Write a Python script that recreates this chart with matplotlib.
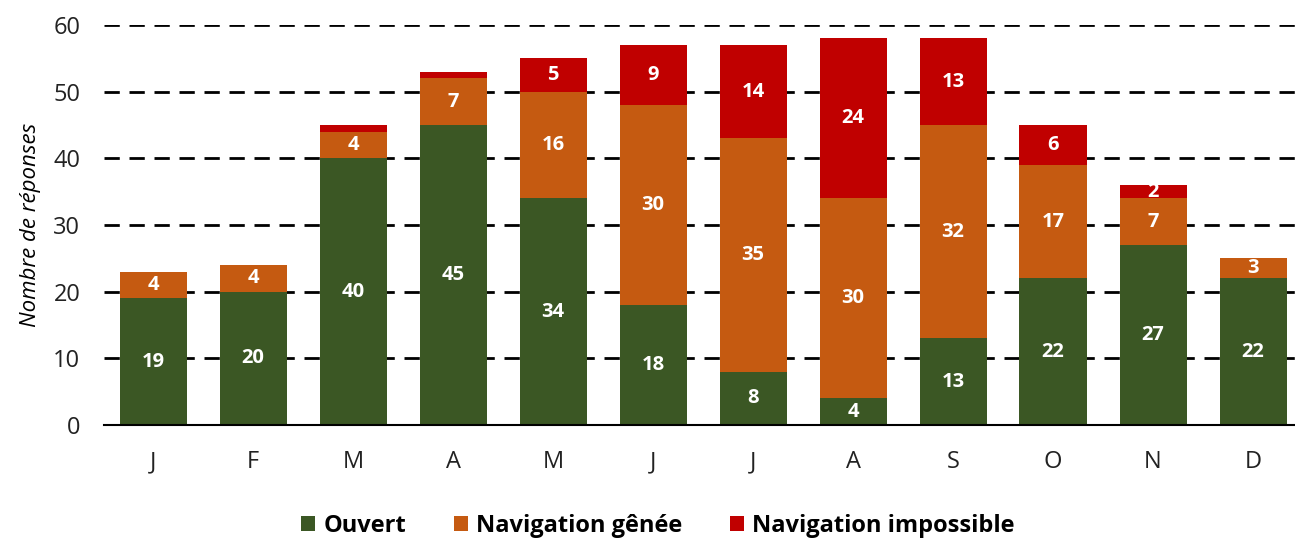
import matplotlib
matplotlib.use("Agg")
import matplotlib.pyplot as plt
import numpy as np

months = ["J", "F", "M", "A", "M", "J", "J", "A", "S", "O", "N", "D"]
ouvert = [19, 20, 40, 45, 34, 18, 8, 4, 13, 22, 27, 22]
genee = [4, 4, 4, 7, 16, 30, 35, 30, 32, 17, 7, 3]
impossible = [0, 0, 1, 1, 5, 9, 14, 24, 13, 6, 2, 0]
series_names = ["Ouvert", "Navigation gênée", "Navigation impossible"]
colors = ["#3B5724", "#C55A11", "#C00000"]

plt.rcParams['font.family'] = ['Open Sans', 'DejaVu Sans']

fig = plt.figure(figsize=(12.95, 5.4), dpi=100)
ax = fig.add_axes([104/1295, 1 - 425/540, (1295-104)/1295, 400/540])

x = np.arange(len(months))
w = 0.67
bottom = np.zeros(len(months))
for vals, name, c in zip([ouvert, genee, impossible], series_names, colors):
    vals = np.array(vals, dtype=float)
    ax.bar(x, vals, w, bottom=bottom, color=c, label=name, zorder=3)
    for xi, v, b in zip(x, vals, bottom):
        if v >= 2:
            ax.text(xi, b + v / 2, f"{int(v)}", ha="center", va="center",
                    color="white", fontsize=14.5, fontweight="bold", zorder=4)
    bottom += vals

ax.set_xlim(-0.49, 11.42)
ax.set_ylim(0, 60)
ax.set_yticks(range(0, 61, 10))
ax.set_xticks(x)
ax.set_xticklabels(months)
ax.tick_params(axis="both", length=0, labelsize=17, colors="#222222")
ax.tick_params(axis="x", pad=18)
ax.tick_params(axis="y", pad=17)
for yv in range(10, 61, 10):
    ax.axhline(yv, color="black", lw=2, ls=(0, (5.5, 3.5)), zorder=1)
for s in ["top", "right", "left"]:
    ax.spines[s].set_visible(False)
ax.spines["bottom"].set_linewidth(1.5)
ax.spines["bottom"].set_zorder(5)
ax.set_ylabel("Nombre de réponses", fontsize=16, style="italic", labelpad=9)

leg = fig.legend(loc="lower center", bbox_to_anchor=(0.508, -0.035), ncol=3, frameon=False,
                 prop={"size": 17, "weight": "bold"}, handlelength=0.6, handleheight=0.6,
                 columnspacing=2.0, handletextpad=0.35)

fig.savefig("out.png", dpi=100)
